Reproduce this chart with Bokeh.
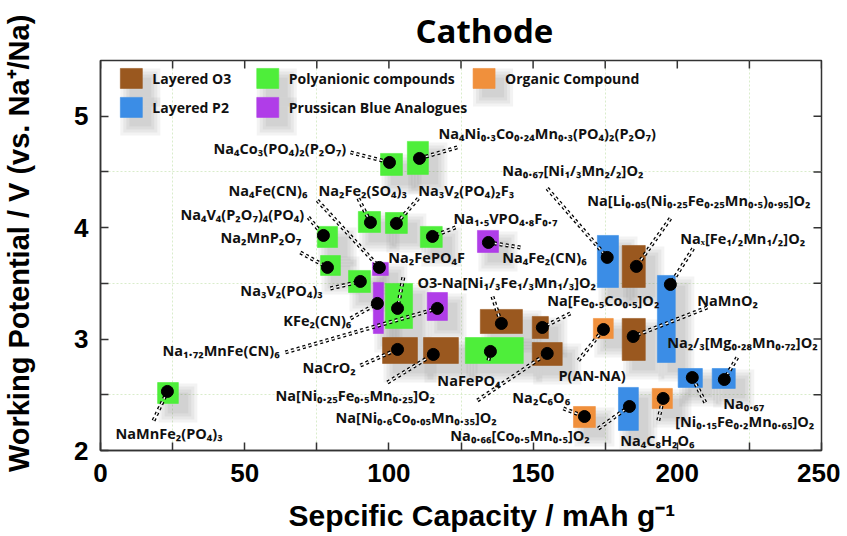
from bokeh.plotting import figure
from bokeh.models import Range1d, FixedTicker, ColumnDataSource
from bokeh.core.properties import value
from bokeh.embed import file_html
from bokeh.resources import INLINE

# ---------------- data ----------------
categories = ["Layered O3", "Layered P2", "Polyanionic compounds",
              "Prussican Blue Analogues", "Organic Compound"]
cat_colors = ["#9a581f", "#3b8de6", "#4eee3a", "#b03de8", "#f0903c"]

names = [
    "Na4Co3(PO4)2(P2O7)", "Na4Ni0.3Co0.24Mn0.3(PO4)2(P2O7)", "Na4Fe(CN)6",
    "Na2Fe2(SO4)3", "Na3V2(PO4)2F3", "Na4V4(P2O7)4(PO4)", "Na2MnP2O7",
    "Na1.5VPO4.8F0.7", "Na3V2(PO4)3", "Na2FePO4F", "KFe2(CN)6",
    "Na1.72MnFe(CN)6", "O3-Na[Ni1/3Fe1/3Mn1/3]O2", "NaCrO2",
    "Na[Ni0.25Fe0.5Mn0.25]O2", "NaFePO4", "Na[Ni0.6Co0.05Mn0.35]O2",
    "Na[Fe0.5Co0.5]O2", "P(AN-NA)", "NaMnO2", "Nax[Fe1/2Mn1/2]O2",
    "Na0.67[Ni1/3Mn2/2]O2", "Na[Li0.05(Ni0.25Fe0.25Mn0.5)0.95]O2",
    "Na4Fe2(CN)6", "Na2/3[Mg0.28Mn0.72]O2", "Na0.67[Ni0.15Fe0.2Mn0.65]O2",
    "Na2C6O6", "Na0.66[Co0.5Mn0.5]O2", "Na4C8H2O6", "NaMnFe2(PO4)3",
]
category = [2, 2, 3, 2, 2, 2, 2, 2, 2, 2, 3, 3, 0, 0, 0, 2, 0, 0, 4, 0,
            1, 1, 0, 3, 1, 1, 4, 1, 4, 2]
# typical capacity (mAh/g) and potential (V)
capacity = [100.2, 110.6, 96.7, 93.6, 102.6, 77.3, 78.7, 115.1, 90.1, 103.0,
            96.0, 116.8, 139.0, 103.0, 115.4, 135.2, 154.9, 153.2, 174.4, 184.7,
            197.6, 175.7, 185.8, 134.5, 216.3, 205.2, 167.8, 183.4, 195.1, 23.2]
potential = [4.585, 4.621, 3.643, 4.047, 4.038, 3.930, 3.643, 3.921, 3.517, 3.275,
             3.320, 3.275, 3.140, 2.907, 2.862, 2.889, 2.871, 3.104, 3.086, 3.023,
             3.490, 3.733, 3.652, 3.867, 2.637, 2.655, 2.305, 2.395, 2.467, 2.530]
# ranges
cap_lo = [97.1, 106.4, 94.3, 89.4, 98.8, 75.2, 76.3, 110.9, 86.0, 98.8,
          94.6, 113.3, 131.7, 97.8, 112.0, 126.5, 149.7, 149.7, 170.9, 180.9,
          193.1, 172.3, 180.9, 130.7, 212.1, 200.3, 164.0, 179.6, 191.3, 19.8]
cap_hi = [104.7, 113.7, 99.8, 97.1, 106.4, 82.2, 83.2, 118.5, 93.6, 108.2,
          98.1, 120.3, 146.3, 109.9, 124.1, 146.6, 160.1, 155.3, 177.8, 188.9,
          199.3, 179.6, 188.9, 138.0, 220.1, 208.7, 171.6, 186.5, 198.3, 27.0]
pot_lo = [4.469, 4.478, 3.571, 3.957, 3.948, 3.822, 3.571, 3.822, 3.418, 3.095,
          3.050, 3.167, 3.050, 2.781, 2.781, 2.781, 2.763, 3.005, 3.005, 2.808,
          2.790, 3.463, 3.463, 3.777, 2.557, 2.566, 2.206, 2.180, 2.377, 2.422]
pot_hi = [4.666, 4.774, 3.688, 4.145, 4.136, 4.011, 3.750, 4.011, 3.616, 3.499,
          3.508, 3.418, 3.266, 3.014, 3.014, 3.014, 2.969, 3.203, 3.185, 3.185,
          3.571, 3.930, 3.840, 3.975, 2.736, 2.736, 2.395, 2.566, 2.557, 2.610]

label_text = [
    "Na₄Co₃(PO₄)₂(P₂O₇)", "Na₄Ni₀.₃Co₀.₂₄Mn₀.₃(PO₄)₂(P₂O₇)", "Na₄Fe(CN)₆",
    "Na₂Fe₂(SO₄)₃", "Na₃V₂(PO₄)₂F₃", "Na₄V₄(P₂O₇)₄(PO₄)", "Na₂MnP₂O₇",
    "Na₁.₅VPO₄.₈F₀.₇", "Na₃V₂(PO₄)₃", "Na₂FePO₄F", "KFe₂(CN)₆",
    "Na₁.₇₂MnFe(CN)₆", "O3-Na[Ni₁/₃Fe₁/₃Mn₁/₃]O₂", "NaCrO₂",
    "Na[Ni₀.₂₅Fe₀.₅Mn₀.₂₅]O₂", "NaFePO₄", "Na[Ni₀.₆Co₀.₀₅Mn₀.₃₅]O₂",
    "Na[Fe₀.₅Co₀.₅]O₂", "P(AN-NA)", "NaMnO₂", "Naₓ[Fe₁/₂Mn₁/₂]O₂",
    "Na₀.₆₇[Ni₁/₃Mn₂/₂]O₂", "Na[Li₀.₀₅(Ni₀.₂₅Fe₀.₂₅Mn₀.₅)₀.₉₅]O₂",
    "Na₄Fe₂(CN)₆", "Na₂/₃[Mg₀.₂₈Mn₀.₇₂]O₂", "Na₀.₆₇",
    "Na₂C₆O₆", "Na₀.₆₆[Co₀.₅Mn₀.₅]O₂", "Na₄C₈H₂O₆", "NaMnFe₂(PO₄)₃",
]
label_x = [39.2, 117.2, 44.4, 75.6, 110.2, 27.7, 41.6, 122.4, 48.5, 99.8,
           63.4, 21.5, 109.9, 70.0, 60.7, 116.8, 81.5, 154.9, 158.8, 206.9,
           201.0, 139.3, 168.8, 139.3, 196.5, 215.9, 142.8, 121.3, 180.2, 5.2]
label_y = [4.711, 4.846, 4.334, 4.334, 4.334, 4.118, 3.912, 4.083, 3.436, 3.733,
           3.167, 2.898, 3.508, 2.745, 2.494, 2.628, 2.296, 3.347, 2.673, 3.347,
           3.903, 4.513, 4.244, 3.733, 2.969, 2.422, 2.476, 2.135, 2.090, 2.153]
extra_text = ["[Ni₀.₁₅Fe₀.₂Mn₀.₆₅]O₂"]
extra_x = [199.3]
extra_y = [2.260]

lead_x = [86.7, 123.7, 75.2, 89.4, 110.2, 72.1, 69.3, 123.1, 79.7, 105.0,
          86.7, 64.1, 135.9, 90.1, 99.5, 134.5, 130.7, 162.9, 165.7, 210.4,
          205.5, 154.9, 197.6, 145.6, 220.8, 209.7, 160.5, 172.6, 193.4, 18.4]
lead_y = [4.675, 4.720, 4.244, 4.262, 4.262, 4.092, 3.777, 4.002, 3.454, 3.553,
          3.185, 2.880, 3.382, 2.763, 2.610, 2.808, 2.449, 3.230, 2.808, 3.284,
          3.813, 4.352, 4.083, 3.822, 2.835, 2.431, 2.377, 2.197, 2.269, 2.269]

x_ticks = [0, 50, 100, 150, 200, 250]
x_minor = [25, 75, 125, 175, 225]
y_ticks = [2, 3, 4, 5]
y_minor = [2.5, 3.5, 4.5]

title_text = "Cathode"
x_title = "Sepcific Capacity / mAh g⁻¹"
y_title = "Working Potential / V (vs. Na⁺/Na)"

# ---------------- layout / style ----------------
W, H = 840, 534
BL, BR, BT, BB = 100, 19, 60, 84
FW, FH = W - BL - BR, H - BT - BB
X0, X1, Y0, Y1 = 0, 250, 2, 5.5
XPU = FW / (X1 - X0)
YPU = FH / (Y1 - Y0)
LABEL_FONT = value("Open Sans")
AX = "#333333"
TICK = 8
NBSP = "\u00a0"

p = figure(width=W, height=H,
           x_range=Range1d(X0, X1), y_range=Range1d(Y0, Y1),
           output_backend="svg", toolbar_location=None,
           min_border_left=BL, min_border_right=BR,
           min_border_top=BT, min_border_bottom=BB)
p.background_fill_color = "white"
p.border_fill_color = "white"
p.outline_line_color = AX
p.outline_line_width = 1.5

p.title.text = title_text
p.title.text_font = "Open Sans"
p.title.text_font_size = "33px"
p.title.text_font_style = "bold"
p.title.text_color = "black"
p.title.align = "left"
p.title.offset = 315
p.title.vertical_align = "top"
p.title.standoff = 12

xt = FixedTicker(ticks=x_ticks, minor_ticks=x_minor)
yt = FixedTicker(ticks=y_ticks, minor_ticks=y_minor)

for ax in (p.xaxis[0], p.yaxis[0]):
    ax.major_tick_in = TICK
    ax.major_tick_out = 0
    ax.minor_tick_in = TICK
    ax.minor_tick_out = 0
    ax.axis_line_color = AX
    ax.axis_line_width = 1.5
    ax.major_tick_line_color = AX
    ax.minor_tick_line_color = AX
    ax.major_tick_line_width = 1.5
    ax.minor_tick_line_width = 1.5
    ax.major_label_text_font = "Liberation Sans"
    ax.major_label_text_font_style = "bold"
    ax.major_label_text_font_size = "26px"
    ax.major_label_text_color = "black"
    ax.axis_label_text_font = "Liberation Sans"
    ax.axis_label_text_font_style = "bold"
    ax.axis_label_text_color = "black"

p.xaxis[0].ticker = xt
p.yaxis[0].ticker = yt
# leading no-break spaces nudge the centred titles the way the original sits
p.xaxis[0].axis_label = NBSP * 5 + x_title
p.yaxis[0].axis_label = NBSP * 3 + y_title
p.xaxis[0].axis_label_text_font_size = "30px"
p.yaxis[0].axis_label_text_font_size = "29px"
p.xaxis[0].major_label_standoff = 13
p.yaxis[0].major_label_standoff = 12
p.xaxis[0].axis_label_standoff = 14
p.yaxis[0].axis_label_standoff = 36

p.xgrid.ticker = xt
p.ygrid.ticker = yt
for g in (p.xgrid[0], p.ygrid[0]):
    g.grid_line_color = None
    g.minor_grid_line_color = "#d9eccb"
    g.minor_grid_line_dash = "2 2"
    g.minor_grid_line_width = 1

# mirrored inward ticks on the top and right frame edges
top_t = x_ticks + x_minor
p.segment(x0=top_t, y0=[Y1] * len(top_t), x1=top_t, y1=[Y1 - TICK / YPU] * len(top_t),
          line_color=AX, line_width=1.5)
right_t = y_ticks + y_minor
p.segment(x0=[X1] * len(right_t), y0=right_t, x1=[X1 - TICK / XPU] * len(right_t),
          y1=right_t, line_color=AX, line_width=1.5)

colors = [cat_colors[c] for c in category]
src = ColumnDataSource(dict(
    cap=capacity, pot=potential, cl=cap_lo, ch=cap_hi, pl=pot_lo, ph=pot_hi,
    color=colors, lx=lead_x, ly=lead_y, name=names))

# soft drop shadows
SH_OFF, SH_GROW = 10, 3
for k in range(4):
    p.quad(left=[v + (SH_OFF - k * SH_GROW) / XPU for v in cap_lo],
           right=[v + (SH_OFF + k * SH_GROW) / XPU for v in cap_hi],
           bottom=[v - (SH_OFF + k * SH_GROW) / YPU for v in pot_lo],
           top=[v - (SH_OFF - k * SH_GROW) / YPU for v in pot_hi],
           fill_color="#505050", fill_alpha=0.07, line_color=None)

p.quad(left="cl", right="ch", bottom="pl", top="ph", source=src,
       fill_color="color", line_color="color", line_alpha=0.6, line_width=1)

# double-dashed leaders
p.segment(x0="lx", y0="ly", x1="cap", y1="pot", source=src,
          line_color="black", line_width=4, line_dash="3 3")
p.segment(x0="lx", y0="ly", x1="cap", y1="pot", source=src,
          line_color="white", line_width=1.4, line_dash="3 3")

p.scatter(x="cap", y="pot", source=src, size=12, marker="circle",
          fill_color="black", line_color="black")

p.text(x=label_x + extra_x, y=label_y + extra_y, text=label_text + extra_text,
       text_font=LABEL_FONT, text_font_style="bold", text_font_size="14.5px",
       text_baseline="middle", text_align="left", text_color="#111111")

# legend (custom, laid out in grid)
leg_cols = [10.7, 58.0, 133.0]
leg_rows = [5.339, 5.079]
leg_text_dx = 21 / XPU
leg_pos = [(0, 0), (0, 1), (1, 0), (1, 1), (2, 0)]
lgx = [leg_cols[c] for c, r in leg_pos]
lgy = [leg_rows[r] for c, r in leg_pos]
for k in range(4):
    p.rect(x=[v + (SH_OFF - 1) / XPU for v in lgx], y=[v - (SH_OFF - 1) / YPU for v in lgy],
           width=22 + 2 * k * SH_GROW, height=20 + 2 * k * SH_GROW,
           width_units="screen", height_units="screen",
           fill_color="#505050", fill_alpha=0.07, line_color=None)
p.rect(x=lgx, y=lgy, width=22, height=20, width_units="screen", height_units="screen",
       fill_color=cat_colors, line_color=cat_colors, line_alpha=0.6)
p.text(x=[v + leg_text_dx for v in lgx], y=lgy, text=categories,
       text_font=LABEL_FONT, text_font_style="bold", text_font_size="14px",
       text_baseline="middle", text_align="left", text_color="#111111")

open("out.html", "w").write(file_html(p, INLINE))
